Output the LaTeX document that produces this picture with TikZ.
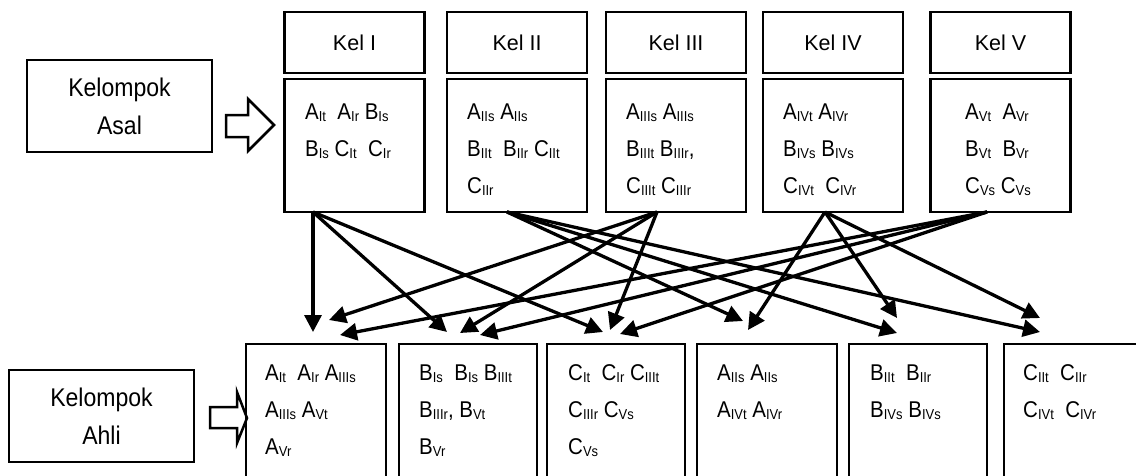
\documentclass[tikz,border=0pt]{standalone}
\usepackage{fontspec}
\setmainfont{Liberation Sans}
\newfontfamily\narrowfont[FakeStretch=0.9]{Liberation Sans}
\usetikzlibrary{arrows.meta}
\newcommand\ssb[1]{\raisebox{-2.2pt}{\fontsize{14.4}{14.4}\selectfont #1}}
\newcommand\rows[1]{\parbox[t]{125pt}{\raggedright\narrowfont\fontsize{22.8}{37}\selectfont #1}}
\begin{document}
\begin{tikzpicture}[x=1pt,y=-1pt,
  box/.style={draw, line width=2.5pt, inner sep=0pt, outer sep=0pt},
  hdr/.style={box, minimum width=140pt, minimum height=61pt, font=\fontsize{21.5}{26}\selectfont},
  body/.style={box, minimum width=140pt, minimum height=133pt},
  lbl/.style={box, minimum width=185pt, minimum height=92pt, align=center, font=\narrowfont\fontsize{25.6}{38}\selectfont},
  lowbox/.style={box, anchor=north west, minimum height=140pt},
  con/.style={line width=3.3pt, -{Triangle[length=17pt,width=17pt]}},
  txt/.style={anchor=base west, inner sep=0pt},
  blockarrow/.style={draw, line width=2.5pt, line join=miter}]
\useasboundingbox (0,0) rectangle (1136,475);
\fill[white] (0,0) rectangle (1136,475);
% left labels
\node[lbl] (asal) at (119.5,106) {Kelompok\\Asal};
\node[lbl] (ahli) at (101.5,416) {Kelompok\\Ahli};
\draw[blockarrow] (226,115) -- (248,115) -- (248,99) -- (274,125) -- (248,151) -- (248,137) -- (226,137) -- cycle;
\draw[blockarrow] (210,407) -- (237,407) -- (237,392) -- (247,418) -- (237,443) -- (237,428) -- (210,428) -- cycle;
% headers
\node[hdr] (h1) at (354.5,42.5) {Kel I};
\node[hdr] (h2) at (517,42.5) {Kel II};
\node[hdr] (h3) at (676,42.5) {Kel III};
\node[hdr] (h4) at (833,42.5) {Kel IV};
\node[hdr] (h5) at (1000.5,42.5) {Kel V};
% bodies
\node[body] (b1) at (354.5,145.5) {};
\node[body] (b2) at (517,145.5) {};
\node[body] (b3) at (676,145.5) {};
\node[body] (b4) at (833,145.5) {};
\node[body] (b5) at (1000.5,145.5) {};
\node[txt] (t1) at (305,119) {\rows{A\ssb{It}\ \ A\ssb{Ir} B\ssb{Is}\\B\ssb{Is} C\ssb{It}\ \ C\ssb{Ir}}};
\node[txt] (t2) at (467,119) {\rows{A\ssb{IIs} A\ssb{IIs}\\B\ssb{IIt}\ \ B\ssb{IIr} C\ssb{IIt}\\C\ssb{IIr}}};
\node[txt] (t3) at (626,119) {\rows{A\ssb{IIIs} A\ssb{IIIs}\\B\ssb{IIIt} B\ssb{IIIr},\\C\ssb{IIIt} C\ssb{IIIr}}};
\node[txt] (t4) at (783,119) {\rows{A\ssb{IVt} A\ssb{IVr}\\B\ssb{IVs} B\ssb{IVs}\\C\ssb{IVt}\ \ C\ssb{IVr}}};
\node[txt] (t5) at (965,119) {\rows{A\ssb{Vt}\ \ A\ssb{Vr}\\B\ssb{Vt}\ \ B\ssb{Vr}\\C\ssb{Vs} C\ssb{Vs}}};
% lower boxes
\node[lowbox, minimum width=140pt] (e1) at (246,344) {};
\node[lowbox, minimum width=138pt] (e2) at (399,344) {};
\node[lowbox, minimum width=138pt] (e3) at (547,344) {};
\node[lowbox, minimum width=140pt] (e4) at (697,344) {};
\node[lowbox, minimum width=138pt] (e5) at (849,344) {};
\node[lowbox, minimum width=136pt] (e6) at (1004,344) {};
\node[txt] (u1) at (265,380) {\rows{A\ssb{It}\ \ A\ssb{Ir} A\ssb{IIIs}\\A\ssb{IIIs} A\ssb{Vt}\\A\ssb{Vr}}};
\node[txt] (u2) at (419,380) {\rows{B\ssb{Is}\ \ B\ssb{Is} B\ssb{IIIt}\\B\ssb{IIIr}, B\ssb{Vt}\\B\ssb{Vr}}};
\node[txt] (u3) at (568,380) {\rows{C\ssb{It}\ \ C\ssb{Ir} C\ssb{IIIt}\\C\ssb{IIIr} C\ssb{Vs}\\C\ssb{Vs}}};
\node[txt] (u4) at (717,380) {\rows{A\ssb{IIs} A\ssb{IIs}\\A\ssb{IVt} A\ssb{IVr}}};
\node[txt] (u5) at (870,380) {\rows{B\ssb{IIt}\ \ B\ssb{IIr}\\B\ssb{IVs} B\ssb{IVs}}};
\node[txt] (u6) at (1023,380) {\rows{C\ssb{IIt}\ \ C\ssb{IIr}\\C\ssb{IVt}\ \ C\ssb{IVr}}};
% arrow targets
\coordinate (tA1) at (313,332);
\coordinate (tA3) at (329,320);
\coordinate (tA5) at (340,335);
\coordinate (tB1) at (447,332);
\coordinate (tB3) at (460,333);
\coordinate (tB5) at (480,335);
\coordinate (tC1) at (603,332);
\coordinate (tC3) at (610,330);
\coordinate (tC5) at (620,334);
\coordinate (tD2) at (743,321);
\coordinate (tD4) at (748,330);
\coordinate (tE2) at (897,333);
\coordinate (tE4) at (897,318);
\coordinate (tF2) at (1040,332);
\coordinate (tF4) at (1040,318);
% connectors
\draw[con] ([xshift=28.5pt]b1.south west) -- (tA1);
\draw[con] ([xshift=28.5pt]b1.south west) -- (tB1);
\draw[con] ([xshift=28.5pt]b1.south west) -- (tC1);
\draw[con] ([xshift=60pt]b2.south west) -- (tD2);
\draw[con] ([xshift=60pt]b2.south west) -- (tE2);
\draw[con] ([xshift=60pt]b2.south west) -- (tF2);
\draw[con] ([xshift=51pt]b3.south west) -- (tA3);
\draw[con] ([xshift=51pt]b3.south west) -- (tB3);
\draw[con] ([xshift=51pt]b3.south west) -- (tC3);
\draw[con] ([xshift=62pt]b4.south west) -- (tD4);
\draw[con] ([xshift=62pt]b4.south west) -- (tE4);
\draw[con] ([xshift=62pt]b4.south west) -- (tF4);
\draw[con] ([xshift=56.5pt]b5.south west) -- (tA5);
\draw[con] ([xshift=56.5pt]b5.south west) -- (tB5);
\draw[con] ([xshift=56.5pt]b5.south west) -- (tC5);
\end{tikzpicture}
\end{document}
